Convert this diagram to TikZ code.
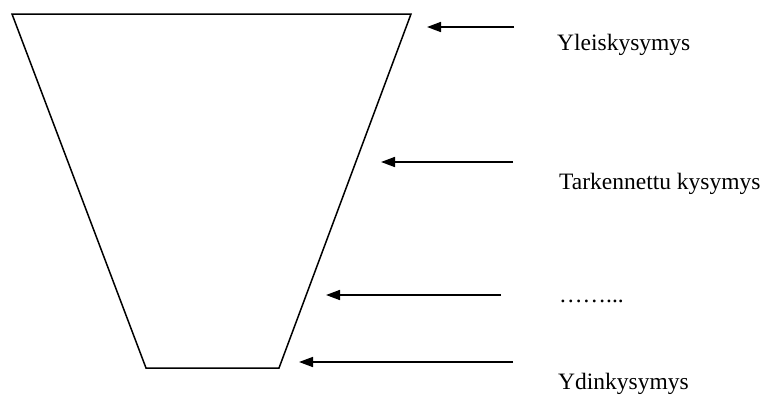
\documentclass[tikz,border=0pt]{standalone}
\usepackage{fontspec}
\setmainfont{Liberation Serif}
\usetikzlibrary{arrows.meta}

\begin{document}
\begin{tikzpicture}[
    x=1pt, y=-1pt,
    every node/.style={text=black},
    lbl/.style={font=\fontsize{23.5}{28}\selectfont, anchor=base west, inner sep=0pt},
    arrow/.style={-{Triangle[length=14pt,width=10pt]}, line width=1.6pt},
    funnel/.style={draw=black, line width=1.5pt, line join=miter},
]
\useasboundingbox (0,0) rectangle (763,394);

% ------------------------------------------------------------ funnel ---
\coordinate (tl) at (12,14);
\coordinate (tr) at (411,14);
\coordinate (br) at (279,368);
\coordinate (bl) at (146,368);
\draw[funnel] (tl) -- (tr) -- (br) -- (bl) -- cycle;

% ------------------------------------------------------------ labels ---
\node[lbl] (yleis)  at (557,50)  {Yleiskysymys};
\node[lbl] (tark)   at (559,189) {Tarkennettu kysymys};
\node[lbl] (dots)   at (559,302) {……...};
\node[lbl] (ydin)   at (558,389) {Ydinkysymys};

% ------------------------------------------------------------ arrows ---
\coordinate (a1s) at (514,27);   \coordinate (a1e) at (427,27);
\coordinate (a2s) at (513,162);  \coordinate (a2e) at (381,162);
\coordinate (a3s) at (501,295);  \coordinate (a3e) at (326,295);
\coordinate (a4s) at (513,362);  \coordinate (a4e) at (299,362);
\draw[arrow] (a1s) -- (a1e);
\draw[arrow] (a2s) -- (a2e);
\draw[arrow] (a3s) -- (a3e);
\draw[arrow] (a4s) -- (a4e);

\end{tikzpicture}
\end{document}
